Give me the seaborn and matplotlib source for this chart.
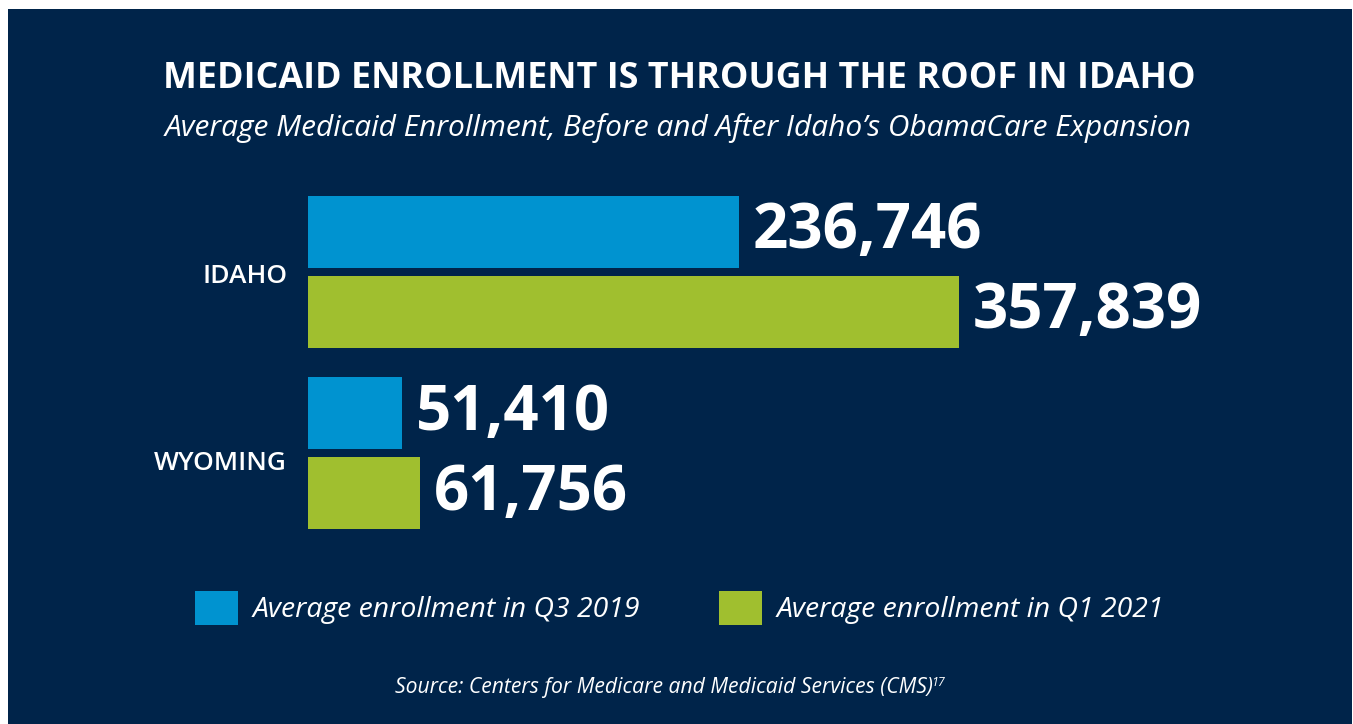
import matplotlib
matplotlib.use("Agg")
import matplotlib.pyplot as plt
from matplotlib.patches import Rectangle
import matplotlib.transforms as mtransforms
import seaborn as sns
import pandas as pd

# ---- data ----
states = ["IDAHO", "WYOMING"]
periods = ["Average enrollment in Q3 2019", "Average enrollment in Q1 2021"]
q3_2019 = [236746, 51410]
q1_2021 = [357839, 61756]

title = "MEDICAID ENROLLMENT IS THROUGH THE ROOF IN IDAHO"
subtitle = "Average Medicaid Enrollment, Before and After Idaho\u2019s ObamaCare Expansion"
source = "Source: Centers for Medicare and Medicaid Services (CMS)"
source_note = "17"

NAVY = "#00244A"
BLUE = "#0093D0"
GREEN = "#A0BF2F"

df = pd.DataFrame({
    "state": states * 2,
    "period": [periods[0]] * len(states) + [periods[1]] * len(states),
    "value": q3_2019 + q1_2021,
})

sns.set_theme(style="white")
plt.rcParams["font.family"] = ["Open Sans", "DejaVu Sans"]

W, H = 1353, 724
fig = plt.figure(figsize=(W / 100, H / 100), dpi=100, facecolor="white")

# navy panel
fig.patches.append(Rectangle((8 / W, 0), (1352 - 8) / W, (H - 9) / H,
                             transform=fig.transFigure, facecolor=NAVY,
                             edgecolor="none", zorder=-10))

ax_left_px, ax_w_px = 308, 1000
ax_top_px, ax_bot_px = 163.4, 561.6
ax = fig.add_axes([ax_left_px / W, 1 - ax_bot_px / H, ax_w_px / W, (ax_bot_px - ax_top_px) / H])
ax.set_facecolor("none")
ax.set_zorder(5)

sns.barplot(data=df, y="state", x="value", hue="period", orient="h",
            palette=[BLUE, GREEN], width=160 / 181, gap=0.1,
            saturation=1, ax=ax, legend=True, edgecolor="none", linewidth=0)

ax.set_xlim(0, ax_w_px / 0.00182)
ax.set_ylim(1.6, -0.6)
for s in ax.spines.values():
    s.set_visible(False)
ax.set_xticks([])
ax.set_xlabel("")
ax.set_ylabel("")
ax.tick_params(axis="y", length=0, pad=15)
for lab, dy in zip(ax.get_yticklabels(), [-1.5, -8]):
    lab.set_color("white")
    lab.set_fontsize(19)
    lab.set_fontweight("semibold")
    lab.set_transform(lab.get_transform() +
                      mtransforms.ScaledTranslation(0, dy / 100, fig.dpi_scale_trans))

for cont in ax.containers:
    vals = [int(b.get_width()) for b in cont]
    ax.bar_label(cont, labels=[f"{v:,}" for v in vals], padding=10,
                 color="white", fontsize=44.5, fontweight="bold")

handles, labels = ax.get_legend_handles_labels()
ax.get_legend().remove()
leg = fig.legend(handles, labels, loc="center", bbox_to_anchor=(679.5 / W, 1 - 608 / H),
                 ncol=2, frameon=False, handlelength=1.52, handleheight=1.52,
                 handletextpad=0.5, columnspacing=2.8,
                 prop={"family": ["Open Sans", "DejaVu Sans"], "style": "italic", "size": 20.4})
for t in leg.get_texts():
    t.set_color("white")
for h in leg.legend_handles:
    h.set_edgecolor("none")
    h.set_linewidth(0)

fig.text(679.5 / W, 1 - 88 / H, title, ha="center", va="baseline",
         color="white", fontsize=25.8, fontweight="bold")
fig.text(678.5 / W, 1 - 136 / H, subtitle, ha="center", va="baseline",
         color="white", fontsize=21.5, style="italic")
src = fig.text(664 / W, 1 - 693 / H, source, ha="center", va="baseline",
               color="white", fontsize=15.2, style="italic")
ax.annotate(source_note, xy=(1, 1), xycoords=src, xytext=(-1.5, 1),
            textcoords="offset points", ha="left", va="top",
            color="white", fontsize=9, style="italic", annotation_clip=False)

fig.savefig("out.png", dpi=100, facecolor=fig.get_facecolor())
